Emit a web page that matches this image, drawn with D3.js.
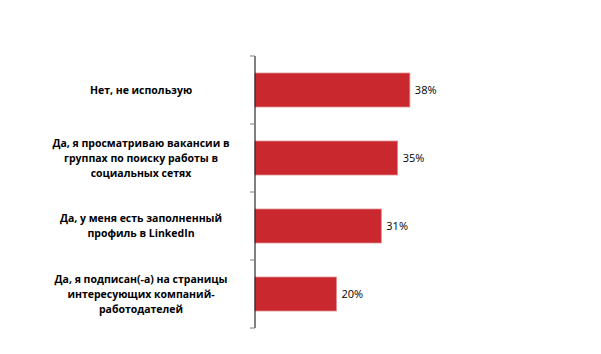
<!DOCTYPE html>
<html>
<head>
<meta charset="utf-8">
<script src="https://cdn.jsdelivr.net/npm/d3@7"></script>
<style>
  body { margin: 0; background: #fff; }
  text { font-family: "Open Sans", "Liberation Sans", sans-serif; }
</style>
</head>
<body>
<div id="chart"></div>
<script>
const width = 601;
const height = 354;

// data
const categories = [
  ["Нет, не использую"],
  ["Да, я просматриваю вакансии в", "группах по поиску работы в", "социальных сетях"],
  ["Да, у меня есть заполненный", "профиль в LinkedIn"],
  ["Да, я подписан(-а) на страницы", "интересующих компаний-", "работодателей"]
];
const values = [38, 35, 31, 20];
const valueLabels = ["38%", "35%", "31%", "20%"];

const svg = d3.select("#chart")
  .append("svg")
  .attr("width", width)
  .attr("height", height);

const axisX = 255;
const y = d3.scaleBand()
  .domain(d3.range(values.length))
  .range([56, 328])
  .paddingInner(0.5)
  .paddingOuter(0.25);

const x = d3.scaleLinear()
  .domain([0, 40])
  .range([axisX, axisX + 163]);

// bars
svg.selectAll("rect.bar")
  .data(values)
  .join("rect")
  .attr("class", "bar")
  .attr("x", x(0))
  .attr("y", (d, i) => y(i))
  .attr("width", d => x(d) - x(0))
  .attr("height", y.bandwidth())
  .attr("fill", "#c9282f")
  .attr("stroke", "#e08a8d")
  .attr("stroke-width", 0.8);

// value labels
svg.selectAll("text.val")
  .data(values)
  .join("text")
  .attr("class", "val")
  .attr("x", d => x(d) + 5)
  .attr("y", (d, i) => y(i) + y.bandwidth() / 2)
  .attr("dy", "0.35em")
  .text((d, i) => valueLabels[i])
  .style("font-size", "11px")
  .attr("fill", "#000");

// axis line and ticks between categories
const step = y.step();
const axis = svg.append("g");
axis.append("line")
  .attr("x1", axisX).attr("x2", axisX)
  .attr("y1", 56).attr("y2", 328)
  .attr("stroke", "#000")
  .attr("stroke-width", 1);
d3.range(values.length + 1).forEach(i => {
  const ty = 56 + i * step;
  axis.append("line")
    .attr("x1", axisX - 5).attr("x2", axisX)
    .attr("y1", ty).attr("y2", ty)
    .attr("stroke", "#7f7f7f")
    .attr("stroke-width", 1);
});

// category labels
const lineH = 15;
categories.forEach((lines, i) => {
  const cy = y(i) + y.bandwidth() / 2;
  const t = svg.append("text")
    .attr("text-anchor", "middle")
    .style("font-size", "10.5px")
    .style("font-weight", "bold")
    .attr("fill", "#000");
  lines.forEach((ln, j) => {
    t.append("tspan")
      .attr("x", 141)
      .attr("y", cy + (j - (lines.length - 1) / 2) * lineH)
      .attr("dy", "0.35em")
      .text(ln);
  });
});
</script>
</body>
</html>
